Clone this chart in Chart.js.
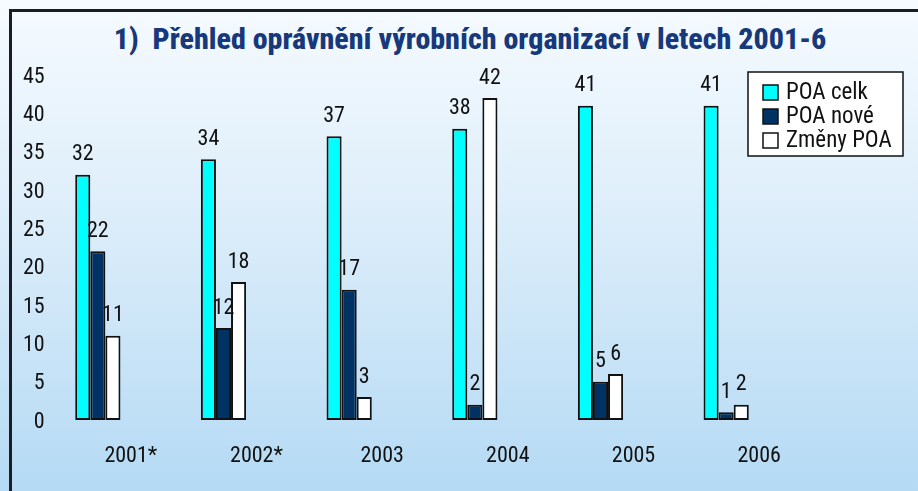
<!DOCTYPE html>
<html>
<head>
<meta charset="utf-8">
<script src="https://cdn.jsdelivr.net/npm/chart.js@4/dist/chart.umd.min.js"></script>
<style>
  html, body { margin: 0; padding: 0; }
  body {
    width: 918px; height: 491px; overflow: hidden; position: relative;
    background: linear-gradient(to bottom, #f6fbff 0%, #dcedfa 45%, #b4daf4 100%);
  }
  #frame {
    position: absolute; left: 9px; top: 9px; right: -5px; bottom: -5px;
    border-left: 3px solid #1c1c26; border-top: 3px solid #1c1c26;
  }
  #title {
    position: absolute; left: 0; width: 940px; top: 21px;
    text-align: center; white-space: pre;
    font: 800 30px 'Roboto Condensed', sans-serif; color: #17387a;
  }
  canvas { position: absolute; left: 0; top: 0; }
</style>
</head>
<body>
<div id="frame"></div>
<div id="title">1)  Přehled oprávnění výrobních organizací v letech 2001-6</div>
<canvas id="chart" width="918" height="491"></canvas>
<script>
const years = ['2001*', '2002*', '2003', '2004', '2005', '2006'];
const poaCelk = [32, 34, 37, 38, 41, 41];
const poaNove = [22, 12, 17, 2, 5, 1];
const zmenyPoa = [11, 18, 3, 42, 6, 2];
const yTicks = [0, 5, 10, 15, 20, 25, 30, 35, 40, 45];

const FONT = "'Roboto Condensed', sans-serif";

// value labels above each bar
const valueLabels = {
  id: 'valueLabels',
  afterDatasetsDraw(chart) {
    const ctx = chart.ctx;
    ctx.save();
    ctx.font = '22px ' + FONT;
    ctx.fillStyle = '#111';
    ctx.textAlign = 'center';
    ctx.textBaseline = 'bottom';
    chart.data.datasets.forEach((ds, i) => {
      chart.getDatasetMeta(i).data.forEach((bar, j) => {
        ctx.fillText(String(ds.data[j]), bar.x, bar.y - 9);
      });
    });
    ctx.restore();
  }
};

// boxed legend sitting inside the plot, top right
const boxLegend = {
  id: 'boxLegend',
  afterDraw(chart) {
    const ctx = chart.ctx;
    const x = 748, y = 72, w = 155, h = 84;
    ctx.save();
    ctx.fillStyle = '#fff';
    ctx.fillRect(x, y, w, h);
    ctx.strokeStyle = '#111';
    ctx.lineWidth = 1.5;
    ctx.strokeRect(x, y, w, h);
    ctx.font = '23px ' + FONT;
    ctx.textBaseline = 'middle';
    ctx.textAlign = 'left';
    chart.data.datasets.forEach((ds, i) => {
      const cy = y + 20 + i * 24;
      ctx.fillStyle = ds.backgroundColor;
      ctx.fillRect(x + 15, cy - 7, 15, 15);
      ctx.lineWidth = 1.5;
      ctx.strokeRect(x + 15, cy - 7, 15, 15);
      ctx.fillStyle = '#111';
      ctx.fillText(ds.label, x + 38, cy + 1);
    });
    ctx.restore();
  }
};

new Chart(document.getElementById('chart'), {
  type: 'bar',
  data: {
    labels: years,
    datasets: [
      { label: 'POA celk', data: poaCelk, backgroundColor: '#00ffff' },
      { label: 'POA nové', data: poaNove, backgroundColor: '#003363' },
      { label: 'Změny POA', data: zmenyPoa, backgroundColor: '#ffffff' },
    ],
  },
  options: {
    responsive: false,
    animation: false,
    layout: { padding: { left: 10, right: 129, top: 75, bottom: 0 } },
    datasets: {
      bar: {
        borderColor: '#111',
        borderWidth: 2,
        borderSkipped: false,
        categoryPercentage: 0.36,
        barPercentage: 1.0,
      },
    },
    plugins: {
      legend: { display: false },
      tooltip: { enabled: false },
    },
    scales: {
      x: {
        grid: { display: false, drawTicks: false },
        border: { display: false },
        afterFit: (scale) => { scale.height = 71; },
        ticks: {
          color: '#111',
          font: { family: FONT, size: 22 },
          padding: 23,
          labelOffset: 33,
          maxRotation: 0,
        },
      },
      y: {
        min: 0,
        max: 45,
        grid: { display: false, drawTicks: false },
        border: { display: false },
        afterFit: (scale) => { scale.width = 25; },
        afterBuildTicks: (scale) => { scale.ticks = yTicks.map((v) => ({ value: v })); },
        ticks: {
          color: '#111',
          font: { family: FONT, size: 22 },
          mirror: true,
          crossAlign: 'far',
          padding: -12,
          labelOffset: 2,
        },
      },
    },
  },
  plugins: [valueLabels, boxLegend],
});
</script>
</body>
</html>
